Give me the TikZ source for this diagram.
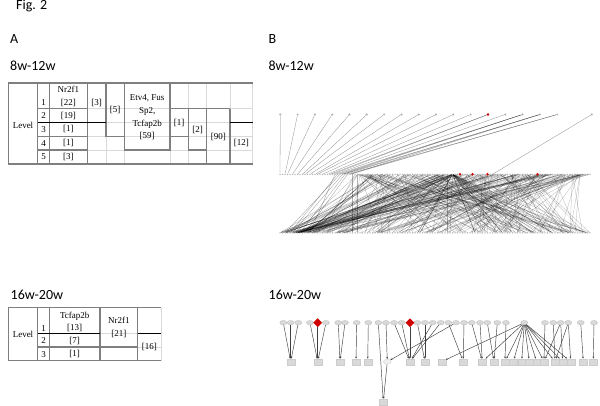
\documentclass[tikz,border=0pt]{standalone}
\usepackage{fontspec}
\setmainfont{Carlito}
\newfontfamily\tnr{Liberation Serif}
\usetikzlibrary{arrows.meta,shapes.geometric}
\definecolor{rulegray}{HTML}{7F7F7F}
\definecolor{lightgrid}{HTML}{D9D9D9}
\definecolor{netred}{HTML}{D00000}
\begin{document}
\begin{tikzpicture}[x=1pt,y=-1pt,
  head/.style={anchor=base west,font=\fontsize{14}{16}\selectfont,inner sep=0pt},
  cell/.style={font=\tnr\fontsize{9}{12.7}\selectfont,align=center,inner sep=0pt},
  gridline/.style={draw=lightgrid,line width=0.5pt},
  thk/.style={draw=rulegray,line width=1.3pt},
  blk/.style={draw=black,line width=1.5pt},
  dot/.style={circle,fill=gray!60,inner sep=0pt,minimum size=1.5pt},
  topdot/.style={circle,fill=gray!65,inner sep=0pt,minimum size=2.2pt},
  reddot/.style={circle,fill=netred,inner sep=0pt,minimum size=2.8pt},
  netedge/.style={draw=black,opacity=0.28,line width=0.3pt},
  tn/.style={ellipse,fill=gray!30,draw=gray!55,line width=0.3pt,minimum width=7pt,minimum height=4.5pt,inner sep=0pt},
  tred/.style={diamond,fill=netred,inner sep=0pt,minimum width=9pt,minimum height=9pt},
  bx/.style={rectangle,fill=gray!30,draw=gray!40,line width=0.3pt,minimum width=8pt,minimum height=6pt,inner sep=0pt},
  bel/.style={ellipse,fill=gray!12,draw=gray!40,line width=0.3pt,minimum width=8pt,minimum height=5pt,inner sep=0pt},
  ne/.style={draw=black!75,line width=0.45pt,-{Stealth[length=2pt,width=1.8pt]}}]
\useasboundingbox (0,0) rectangle (600,406);
\fill[white] (0,0) rectangle (600,406);

% ---------- headings ----------
\node[head] (fig) at (16,9.5) {Fig. 2};
\node[head] (la) at (10,43.7) {A};
\node[head] (lb) at (268.3,43.7) {B};
\node[head] (la1) at (10,71) {8w-12w};
\node[head] (lb1) at (268.3,71) {8w-12w};
\node[head] (la2) at (10.5,299.3) {16w-20w};
\node[head] (lb2) at (268.5,299.3) {16w-20w};

% ---------- Table A, 8w-12w ----------
\foreach \x in {37.7,49.3,87.3,106,124.3,170,188.3,206.7,230,252.7}
  \draw[gridline] (\x,83) -- (\x,164);
\foreach \y in {108.7,122.3,136.3,150}
  \draw[gridline] (37.7,\y) -- (252.7,\y);
\draw[draw=rulegray,line width=0.6pt] (8.3,83) -- (8.3,164);
\draw[thk] (8.3,83) -- (252.7,83);
\draw[thk] (8.3,164) -- (252.7,164);
\draw[thk] (37.7,83) -- (37.7,164);
\draw[thk] (49.3,83) -- (49.3,164);
\draw[thk] (87.3,83) -- (87.3,164);
\draw[thk] (37.7,108.7) -- (87.3,108.7);
\draw[thk] (37.7,136.3) -- (87.3,136.3);
\draw[thk] (37.7,150) -- (87.3,150);
\draw[thk] (106,83) -- (106,136.3) -- (124.3,136.3);
\draw[thk] (124.3,83) -- (124.3,150) -- (170,150) -- (170,83);
\draw[thk] (170,108.7) -- (230,108.7);
\draw[thk] (170,136.3) -- (188.3,136.3);
\draw[thk] (188.3,108.7) -- (188.3,150) -- (206.7,150);
\draw[thk] (206.7,108.7) -- (206.7,164);
\draw[thk] (230,108.7) -- (230,164);
\draw[blk] (37.7,122.3) -- (106,122.3);
\draw[blk] (230,122.3) -- (252.7,122.3);

\node[cell] (tlev) at (23,125) {Level};
\node[cell] (tn1) at (43.5,102.5) {1};
\node[cell] (tn2) at (43.5,115.5) {2};
\node[cell] (tn3) at (43.5,129.3) {3};
\node[cell] (tn4) at (43.5,143.2) {4};
\node[cell] (tn5) at (43.5,157) {5};
\node[cell] (tnr) at (68.3,96.3) {Nr2f1\\{[22]}};
\node[cell] (tc2) at (68.3,115.5) {[19]};
\node[cell] (tc3) at (68.3,129.3) {[1]};
\node[cell] (tc4) at (68.3,143.2) {[1]};
\node[cell] (tc5) at (68.3,157) {[3]};
\node[cell] (tc6) at (96.7,102.7) {[3]};
\node[cell] (tc7) at (115.2,109.7) {[5]};
\node[cell] (tetv) at (147.2,117.5) {Etv4, Fus\\Sp2,\\Tcfap2b\\{[59]}};
\node[cell] (tc8) at (179.2,122.5) {[1]};
\node[cell] (tc9) at (197.5,129.8) {[2]};
\node[cell] (tc10) at (218.3,136.8) {[90]};
\node[cell] (tc11) at (241.3,143.4) {[12]};

% ---------- Table A, 16w-20w ----------
\foreach \x in {37.7,49.3,100,137.7,161}
  \draw[gridline] (\x,307.5) -- (\x,360.7);
\foreach \y in {333.3,347}
  \draw[gridline] (37.7,\y) -- (161,\y);
\draw[draw=rulegray,line width=0.6pt] (8.3,307.5) -- (8.3,360.7);
\draw[thk] (8.3,307.5) -- (161,307.5);
\draw[thk] (8.3,360.7) -- (161,360.7);
\foreach \x in {37.7,49.3,100,137.7}
  \draw[thk] (\x,307.5) -- (\x,360.7);
\draw[thk] (37.7,347) -- (137.7,347);
\draw[blk] (37.7,333.3) -- (100,333.3);
\draw[blk] (137.7,333.3) -- (161,333.3);

\node[cell] (ulev) at (23,334.5) {Level};
\node[cell] (un1) at (43.5,328.3) {1};
\node[cell] (un2) at (43.5,340.6) {2};
\node[cell] (un3) at (43.5,354.2) {3};
\node[cell] (utc) at (74.7,322) {Tcfap2b\\{[13]}};
\node[cell] (uc2) at (74.7,340.6) {[7]};
\node[cell] (uc3) at (74.7,354.2) {[1]};
\node[cell] (unr) at (118.8,327.5) {Nr2f1\\{[21]}};
\node[cell] (uc4) at (149.3,347.3) {[16]};

% ---------- Network B, 8w-12w ----------
\foreach \i in {0,...,124}{
  \pgfmathsetmacro\xx{280+2.5*\i}
  \node[dot] (m\i) at (\xx,174.3) {};
  \node[dot] (b\i) at (\xx,232.8) {};
}
\foreach \k in {0,...,16}{
  \pgfmathsetmacro\xx{280.3+17.3*\k}
  \node[topdot] (t\k) at (\xx,114.5) {};
}
\node[topdot] (t17) at (591.7,114.5) {};

\foreach \k/\j in {0/0,1/2,2/3,3/5,4/7,5/9,6/10,7/12,8/14,9/15,10/17,11/19,12/20,13/22,14/24,15/26,16/27,12/21,14/23,15/25,15/28,16/28,14/25,17/85}
  \draw[netedge,opacity=0.45] (t\k) -- (m\j);

\pgfmathsetseed{20}
\foreach \e in {1,...,235}{
  \pgfmathrandominteger{\aa}{30}{124}
  \pgfmathrandominteger{\bb}{0}{124}
  \draw[netedge] (m\aa) -- (b\bb);
}
\foreach \e in {1,...,32}{
  \pgfmathrandominteger{\bb}{0}{124}
  \draw[netedge,opacity=0.4] (m69) -- (b\bb);
}
\foreach \e in {1,...,45}{
  \pgfmathrandominteger{\aa}{35}{110}
  \pgfmathrandominteger{\bb}{0}{14}
  \draw[netedge,opacity=0.35] (m\aa) -- (b\bb);
}
\foreach \a/\b in {29/29,31/31}
  \draw[netedge,opacity=0.3] (m\a) -- (b\b);
\foreach \a/\b in {24/2,25/5,26/8,22/12,23/4,27/10}
  \draw[netedge,opacity=0.4] (m\a) -- (b\b);

\foreach \i in {72,77,83,103}
  \node[reddot] (r\i) at (m\i) {};
\node[reddot] (rt12) at (t12) {};

% ---------- Network B, 16w-20w ----------
\foreach \n/\x in {1/283.3,2/290.7,3/298.3,4/310,6/326,7/338.3,8/345,9/356.7,10/368.3,
  11/378.3,12/386,13/394,14/401.7,16/417.3,17/425,18/432.7,19/440.7,20/448.3,21/456,
  22/464,23/471.7,24/480,25/487.3,26/497.3,27/506,28/524.3,29/545,30/553.3,31/560.7,
  32/568.3,33/580.7,34/594}
  \node[tn] (T\n) at (\x,322.7) {};
\node[tred] (T5) at (317.7,322.7) {};
\node[tred] (T15) at (410,322.7) {};

\foreach \n/\x in {1/290.7,2/317.7,3/340,4/356,5/367.7,7/410,8/425,9/441.7,10/463.3,
  11/482.3,12/494,13/505,14/513.3,15/521.7,16/529.3,17/536.7,18/544,19/555,20/562.7,
  21/570.7,22/583.3,23/593.3}
  \node[bx] (B\n) at (\x,361.7) {};
\node[bel] (B6) at (387.3,361.7) {};
\node[bx] (L) at (383.3,401.7) {};

\foreach \s/\t in {T1/B1,T2/B1,T3/B1,T4/B2,T5/B2,T6/B2,T7/B3,T8/B3,T9/B4,T10/B5,
  T11/L,T12/B6,B6/L,T13/B7,T14/B7,T15/B7,T16/B8,T17/B8,T18/B7,T19/B7,T20/B10,T21/B6,
  T22/B10,T23/B11,T24/B11,T25/B12,T26/B12,T27/B13,
  T28/B9,T28/B13,T28/B14,T28/B15,T28/B16,T28/B17,T28/B18,T28/B19,T28/B20,T28/B21,T28/B11,
  T29/B18,T30/B19,T31/B18,T31/B20,T32/B21,T32/B19,T33/B22,T34/B23}
  \draw[ne] (\s) -- (\t);
\end{tikzpicture}
\end{document}
